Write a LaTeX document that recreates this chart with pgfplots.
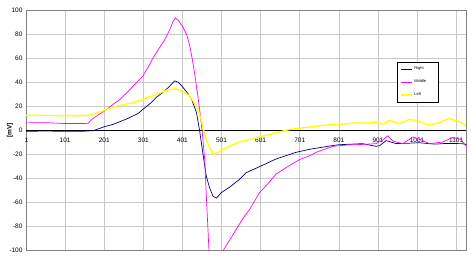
\documentclass[border=0pt]{standalone}
\usepackage{pgfplots}
\pgfplotsset{compat=1.18}
\usepackage{fontspec}
\setmainfont{Liberation Sans}
\definecolor{navyc}{HTML}{000080}
\definecolor{magc}{HTML}{FF00FF}
\definecolor{yelc}{HTML}{FFFF00}
\definecolor{gridc}{HTML}{C8C8C8}
\definecolor{framec}{HTML}{808080}
\begin{document}
\begin{tikzpicture}
\begin{axis}[
  name=ax, at={(0,0)}, anchor=south west,
  scale only axis, width=440.3pt, height=240pt,
  xmin=1, xmax=1127, ymin=-100, ymax=100,
  xtick={101,201,301,401,501,601,701,801,901,1001,1101},
  xticklabels={101,201,301,401,501,601,701,801,901,1001,1101},
  ytick={-100,-80,...,100},
  major tick length=0pt,
  grid=major, major grid style={gridc, line width=0.5pt},
  axis line style={framec, line width=0.6pt},
  extra y ticks={0}, extra y tick labels={},
  extra y tick style={major grid style={black, line width=0.6pt}},
  tick label style={font=\fontsize{6.5}{7}\selectfont},
  /pgf/number format/assume math mode=true,
  xticklabel style={yshift=116pt},
  ylabel={[mV]},
  every axis y label/.style={at={(axis description cs:0,0.5)}, xshift=-16pt, rotate=90, anchor=center, font=\fontsize{6.5}{7}\selectfont\bfseries},
  legend style={at={(0.842,0.7875)}, anchor=north west, draw=black, line width=0.4pt,
    font=\fontsize{4}{5}\selectfont, row sep=4.5pt, inner xsep=3pt, inner ysep=3pt},
  legend cell align=left,
  legend image code/.code={\draw[#1] (0pt,0pt) -- (11pt,0pt);},
]
\addplot[navyc, line width=0.7pt] coordinates {
(1,-0.5) (50,-0.3) (100,-0.5) (150,-0.4) (172,0) (190,2) (201,3.3) (224,5.3) (260,10) (288,14.4) (300,17.8) (320,23) (335,28) (347,30.9) (365,36) (381,41.5) (390,40.5) (401,36.7) (415,31) (424,26.7) (437,15) (445,0) (453,-18) (462,-37.8) (470,-47) (479,-54.5) (488,-56.2) (500,-51.7) (522,-47) (547,-40.6) (564,-35) (598,-30) (641,-23.5) (692,-18) (726,-15.5) (777,-12.8) (801,-11.7) (862,-10.8) (896,-13) (905,-12.5) (922,-8.3) (947,-10.7) (975,-10.5) (1006,-10) (1032,-10.8) (1049,-11.2) (1075,-10.6) (1117,-10.8) (1127,-11.5)
};
\addlegendentry{\makebox[19pt][l]{Right}}
\addplot[magc, line width=0.7pt] coordinates {
(1,6.5) (50,6.7) (100,6) (150,6) (160,6.2) (169,9.4) (185,13) (202,16.4) (220,21) (241,26) (260,32) (275,37.2) (300,45.5) (315,54) (326,60.8) (340,68) (356,76) (369,84.4) (377,91) (383,94) (390,92) (401,87.2) (412,80) (420,70.5) (426,60) (432,48.3) (440,30) (445,17.8) (452,-2) (458,-24) (463,-60) (469,-100) (476,-118) (485,-120) (495,-112) (505,-100) (522,-91) (539,-82) (556,-73) (573,-65.6) (598,-51.7) (620,-44) (641,-36) (670,-30) (701,-24) (726,-21) (743,-18) (786,-13) (820,-12) (862,-11.4) (896,-10.8) (912,-8) (926,-4.3) (939,-8.6) (964,-10.8) (978,-8) (990,-5.2) (1015,-8) (1032,-10.8) (1066,-9.5) (1092,-5.6) (1113,-7.2) (1127,-13)
};
\addlegendentry{\makebox[19pt][l]{Middle}}
\addplot[yelc, line width=1.4pt] coordinates {
(1,12.8) (50,12.7) (100,12.5) (150,12.5) (160,12.8) (175,14) (190,15.5) (210,18) (233,20.5) (255,22) (275,23.3) (300,26) (335,30.3) (360,33.6) (383,35) (401,33) (420,28.9) (437,20.5) (449,9.4) (455,1) (462,-7.3) (472,-15) (481,-19.8) (490,-18.5) (505,-15.5) (522,-12.8) (547,-9.5) (570,-7.5) (598,-5.3) (625,-3) (649,-1) (675,1) (701,2) (726,3) (743,3.8) (777,5) (801,5.2) (845,6.5) (870,6.3) (896,7.3) (913,5.2) (930,8.6) (956,5.8) (981,9.4) (1000,8.5) (1032,4.7) (1058,6.7) (1083,10.2) (1109,7.5) (1127,4.5)
};
\addlegendentry{\makebox[19pt][l]{Left}}
\end{axis}
\node[anchor=north, font=\fontsize{6.5}{7}\selectfont] at ([yshift=-3.4pt, xshift=0.5pt]ax.west) {1};
\pgfresetboundingbox
\path ([xshift=-26pt,yshift=-9.3pt]ax.south west) rectangle ([xshift=4.7pt,yshift=10.7pt]ax.north east);
\end{tikzpicture}
\end{document}
